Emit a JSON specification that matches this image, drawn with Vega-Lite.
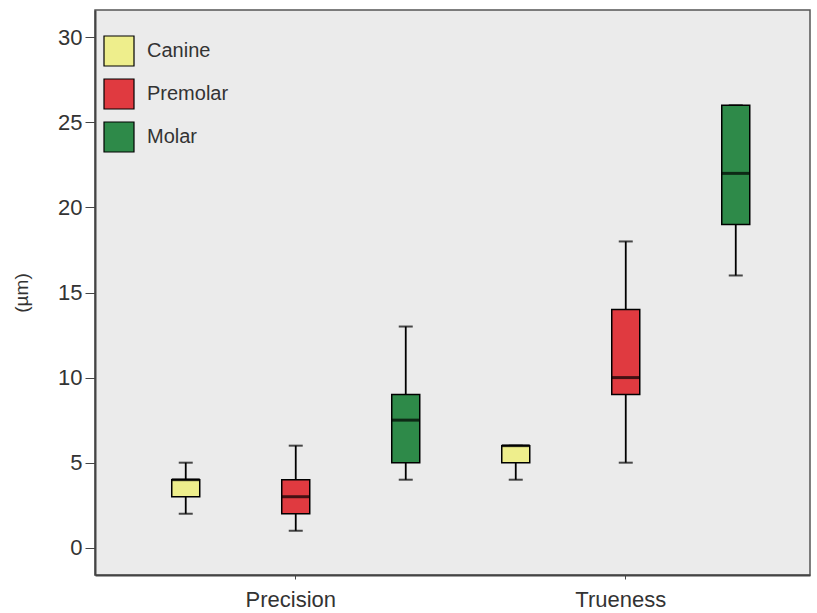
{
  "$schema": "https://vega.github.io/schema/vega-lite/v6.json",
  "width": 715,
  "height": 565,
  "autosize": {"type": "none"},
  "padding": {"left": 95, "top": 10, "right": 7, "bottom": 38},
  "background": "white",
  "config": {
    "view": {"fill": "#ebebeb", "stroke": "#555555", "strokeWidth": 1.5},
    "font": "Liberation Sans",
    "axis": {"domainColor": "#444444", "domainWidth": 2, "tickColor": "#444444", "labelColor": "#333333", "titleColor": "#333333", "grid": false}
  },
  "data": {
    "values": [
      {"test": "Precision", "tooth": "Canine", "min": 2, "q1": 3, "median": 4, "q3": 4, "max": 5},
      {"test": "Precision", "tooth": "Premolar", "min": 1, "q1": 2, "median": 3, "q3": 4, "max": 6},
      {"test": "Precision", "tooth": "Molar", "min": 4, "q1": 5, "median": 7.5, "q3": 9, "max": 13},
      {"test": "Trueness", "tooth": "Canine", "min": 4, "q1": 5, "median": 6, "q3": 6, "max": 6},
      {"test": "Trueness", "tooth": "Premolar", "min": 5, "q1": 9, "median": 10, "q3": 14, "max": 18},
      {"test": "Trueness", "tooth": "Molar", "min": 16, "q1": 19, "median": 22, "q3": 26, "max": 26}
    ]
  },
  "encoding": {
    "x": {
      "field": "test", "type": "nominal",
      "scale": {"paddingInner": 0, "paddingOuter": 0.0833, "align": 0.65},
      "axis": {"title": null, "labelAngle": 0, "labelFontSize": 22, "tickSize": 4, "labelPadding": 10, "labelOffset": -5, "domainColor": "#444444"}
    },
    "xOffset": {"field": "tooth", "type": "nominal", "scale": {"domain": ["Canine", "Premolar", "Molar"], "paddingInner": 0, "paddingOuter": 0}}
  },
  "layer": [
    {
      "mark": {"type": "rule", "color": "black", "strokeWidth": 1.8},
      "encoding": {
        "y": {"field": "min", "type": "quantitative", "scale": {"domain": [-1.6, 31.6], "nice": false, "zero": false},
          "axis": {"title": "(µm)", "titleFontSize": 19, "titleFontWeight": "normal", "titlePadding": 26, "values": [0, 5, 10, 15, 20, 25, 30], "labelFontSize": 22, "tickSize": 10, "labelPadding": 3}},
        "y2": {"field": "max"}
      }
    },
    {
      "mark": {"type": "tick", "color": "black", "size": 14, "thickness": 2},
      "encoding": {"y": {"field": "min", "type": "quantitative"}}
    },
    {
      "mark": {"type": "tick", "color": "black", "size": 14, "thickness": 2},
      "encoding": {"y": {"field": "max", "type": "quantitative"}}
    },
    {
      "mark": {"type": "bar", "width": 28, "stroke": "black", "strokeWidth": 1.5, "opacity": 1},
      "encoding": {
        "y": {"field": "q1", "type": "quantitative"},
        "y2": {"field": "q3"},
        "fill": {
          "field": "tooth", "type": "nominal",
          "scale": {"domain": ["Canine", "Premolar", "Molar"], "range": ["#eeee8c", "#e03a40", "#2e8a49"]},
          "legend": {
            "title": null, "orient": "none", "legendX": 8, "legendY": 25, "padding": 0,
            "symbolType": "square", "symbolSize": 900, "symbolStrokeColor": "black", "symbolStrokeWidth": 1.2, "symbolOpacity": 1,
            "labelFontSize": 20, "labelColor": "#333333", "labelOffset": 12, "rowPadding": 7
          }
        }
      }
    },
    {
      "mark": {"type": "tick", "color": "black", "size": 28, "thickness": 3},
      "encoding": {"y": {"field": "median", "type": "quantitative"}}
    }
  ]
}
